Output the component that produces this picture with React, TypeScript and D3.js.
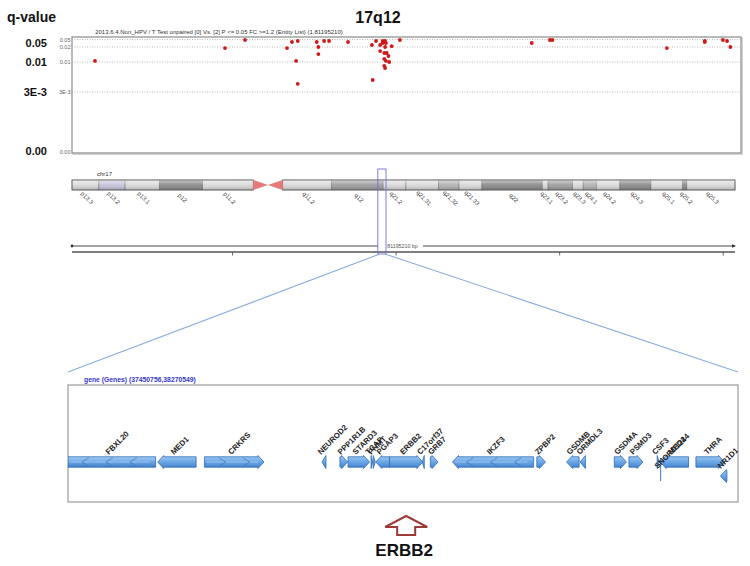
import React from "react";
import * as d3 from "d3";

const W = 750;
const H = 566;

const chromLengthMb = 81.19521;
const windowStart = 37450756;
const windowEnd = 38270549;

const titleText = "17q12";
const yAxisTitle = "q-value";
const captionText =
  "2013.6.4.Non_HPV / T Test unpaired [0] Vs. [2] P <= 0.05 FC >=1.2 (Entity List) (1,81195210)";

// scatter points: position (Mb) and q-value
const pointPosMb = [
  2.79, 18.57, 21.0, 26.1, 26.7, 27.4, 27.2, 27.4, 29.7, 29.9, 29.9, 30.6, 31.2, 33.5,
  36.4, 36.9, 37.4, 37.7, 37.9, 38.0, 38.1, 37.7, 38.0, 37.4, 37.9, 38.2, 38.4, 37.9,
  38.1, 38.5, 37.9, 38.0, 36.5, 38.8, 39.8, 55.8, 58.0, 58.3, 72.2, 76.8, 76.8, 79.0,
  79.5, 79.9,
];
const pointQ = [
  0.0107, 0.0193, 0.048, 0.0193, 0.04, 0.044, 0.0107, 0.0049, 0.04, 0.02, 0.0153, 0.044,
  0.044, 0.04, 0.028, 0.044, 0.028, 0.044, 0.04, 0.044, 0.036, 0.036, 0.02, 0.0173, 0.016,
  0.016, 0.014, 0.012, 0.0107, 0.01, 0.0091, 0.0086, 0.0058, 0.0235, 0.048, 0.036, 0.048,
  0.048, 0.0193, 0.044, 0.04, 0.048, 0.044, 0.02,
];

const qGridValues = [0.05, 0.02, 0.01, 0.003, 0];
const qGridLabels = ["0.05", "0.02", "0.01", "3E-3", "0.00"];
const qBigValues = [0.05, 0.01, 0.003, 0];
const qBigLabels = ["0.05", "0.01", "3E-3", "0.00"];

// chromosome bands
const bandNames = [
  "p13.3", "p13.2", "p13.1", "p12", "p11.2", "p11.1", "q11.1", "q11.2", "q12", "q21.2",
  "q21.31", "q21.32", "q21.33", "q22", "q23.1", "q23.2", "q23.3", "q24.1", "q24.2",
  "q24.3", "q25.1", "q25.2", "q25.3",
];
const bandStartMb = [
  0, 3.3, 6.5, 10.7, 16.0, 22.2, 24.0, 25.8, 31.8, 38.1, 40.9, 44.9, 47.4, 50.2, 57.6,
  58.3, 61.3, 62.6, 64.2, 67.1, 70.9, 74.8, 75.3,
];
const bandStain = [
  "gneg", "gvar", "gneg", "gpos75", "gneg", "acen", "acen", "gneg", "gpos50", "gneg",
  "gneg", "gpos25", "gneg", "gpos75", "gneg", "gpos50", "gneg", "gpos25", "gneg",
  "gpos75", "gneg", "gpos75", "gneg",
];
const stainColor: Record<string, string> = {
  gneg: "#dadada",
  gvar: "#c4c4d8",
  gpos25: "#b2b2b2",
  gpos50: "#9d9d9d",
  gpos75: "#8a8a8a",
  acen: "#e47a7a",
};
const rulerTicksMb = [20, 40, 60, 80];
const rulerLabel = "81195210 bp";

// genes in the zoomed window
const geneNames = [
  "FBXL20", "MED1", "CRKRS", "NEUROD2", "PPP1R1B", "STARD3", "TCAP", "PNMT", "PGAP3",
  "ERBB2", "C17orf37", "GRB7", "IKZF3", "ZPBP2", "GSDMB", "ORMDL3", "GSDMA", "PSMD3",
  "CSF3", "MED24", "SNORD124", "THRA", "NR1D1",
];
const geneStart = [
  37410000, 37560500, 37617800, 37761500, 37783500, 37793400, 37821600, 37824234,
  37827375, 37844167, 37884297, 37894180, 37921198, 38024417, 38060848, 38077294,
  38119226, 38137080, 38171614, 38175350, 38175900, 38219067, 38249040,
];
const geneEnd = [
  37557900, 37607500, 37690500, 37766400, 37792900, 37819737, 37822807, 37826728,
  37844393, 37884915, 37886679, 37903538, 38020441, 38034948, 38076151, 38083884,
  38134090, 38154304, 38174066, 38210000, 38176000, 38254000, 38256978,
];
const geneStrand = [
  -1, -1, 1, -1, 1, 1, 1, 1, -1, 1, -1, 1, -1, 1, -1, -1, 1, 1, 1, -1, 0, 1, -1,
];
const geneRow = [0, 0, 0, 0, 0, 0, 0, 0, 0, 0, 0, 0, 0, 0, 0, 0, 0, 0, 0, 0, 1, 0, 1];
const highlightGene = "ERBB2";
const geneTrackTitle = "gene (Genes) (37450756,38270549)";

const FONT = "'Liberation Sans', Arial, sans-serif";

function genePath(x0: number, x1: number, cy: number, strand: number, clippedLeft: boolean) {
  const hb = 5.2;
  const hh = 6.5;
  const hl = Math.min(6, x1 - x0);
  if (strand > 0) {
    return `M${x0},${cy - hb}L${x1 - hl},${cy - hb}L${x1 - hl},${cy - hh}L${x1},${cy}L${x1 - hl},${cy + hh}L${x1 - hl},${cy + hb}L${x0},${cy + hb}Z`;
  }
  if (clippedLeft) {
    return `M${x0},${cy - hb}L${x1},${cy - hb}L${x1},${cy + hb}L${x0},${cy + hb}Z`;
  }
  return `M${x1},${cy - hb}L${x0 + hl},${cy - hb}L${x0 + hl},${cy - hh}L${x0},${cy}L${x0 + hl},${cy + hh}L${x0 + hl},${cy + hb}L${x1},${cy + hb}Z`;
}

export default function App() {
  // scatter
  const plot = { left: 72, right: 741, top: 37, bottom: 153 };
  const xS = d3.scaleLinear().domain([0, chromLengthMb]).range([plot.left, plot.right]);
  const yS = d3
    .scaleLinear()
    .domain([0, 0.003, 0.01, 0.02, 0.05])
    .range([152, 92, 62, 47, 39.5]);

  // ideogram
  const ideo = { left: 72, right: 735, top: 180, h: 10 };
  const xI = d3.scaleLinear().domain([0, chromLengthMb]).range([ideo.left, ideo.right]);
  const xR = d3.scaleLinear().domain([0, chromLengthMb]).range([69, 733]);
  const bands = bandNames.map((n, i) => ({
    name: n,
    start: bandStartMb[i],
    end: i + 1 < bandStartMb.length ? bandStartMb[i + 1] : chromLengthMb,
    stain: bandStain[i],
  }));
  const pEnd = bands.find((b) => b.name === "p11.1")!.start;
  const cenMid = bands.find((b) => b.name === "q11.1")!.start;
  const qStart = bands.find((b) => b.name === "q11.2")!.start;

  const hlX0 = xI(windowStart / 1e6);
  const hlX1 = xI(windowEnd / 1e6) + 1.5;

  // genes
  const gBox = { left: 68, right: 738, top: 385, bottom: 502 };
  const xG = d3.scaleLinear().domain([windowStart, windowEnd]).range([gBox.left, gBox.right]);
  const rowY = [462, 476];
  const genes = geneNames.map((n, i) => {
    const s = Math.max(geneStart[i], windowStart);
    const e = Math.min(geneEnd[i], windowEnd);
    return {
      name: n,
      x0: xG(s),
      x1: xG(e),
      clipped: geneStart[i] < windowStart,
      strand: geneStrand[i],
      cy: rowY[geneRow[i]],
      row: geneRow[i],
    };
  });
  const hg = genes.find((g) => g.name === highlightGene)!;
  const hgX = (hg.x0 + hg.x1) / 2;

  const ruler1Y = 246;
  const ruler2Y = 252;
  const labelGap0 = 378;
  const labelGap1 = 423;

  return (
    <svg
      width={W}
      height={H}
      style={{ position: "absolute", left: 0, top: 0, background: "#fff" }}
      fontFamily={FONT}
    >
      <defs>
        <linearGradient id="ideoShade" x1="0" y1="0" x2="0" y2="1">
          <stop offset="0" stopColor="#fff" stopOpacity="0.55" />
          <stop offset="0.45" stopColor="#fff" stopOpacity="0.1" />
          <stop offset="1" stopColor="#000" stopOpacity="0.18" />
        </linearGradient>
        <linearGradient id="geneFill" x1="0" y1="0" x2="0" y2="1">
          <stop offset="0" stopColor="#a9d0f5" />
          <stop offset="0.45" stopColor="#6fa9e6" />
          <stop offset="1" stopColor="#3f7fcd" />
        </linearGradient>
        <clipPath id="geneClip">
          <rect x={gBox.left} y={gBox.top} width={gBox.right - gBox.left} height={gBox.bottom - gBox.top} />
        </clipPath>
      </defs>
      <rect x={0} y={0} width={W} height={H} fill="#fff" />

      {/* titles */}
      <text x={7} y={22} fontSize={14} fontWeight="bold" fill="#111">
        {yAxisTitle}
      </text>
      <text x={378} y={23} fontSize={16} fontWeight="bold" fill="#111" textAnchor="middle">
        {titleText}
      </text>
      <text x={219} y={34} fontSize={6} fill="#333" textAnchor="middle">
        {captionText}
      </text>

      {/* scatter panel */}
      <rect x={plot.left + 1.2} y={plot.top + 1.2} width={plot.right - plot.left} height={plot.bottom - plot.top} fill="none" stroke="#c8c8c8" strokeWidth={1.2} />
      <rect x={plot.left} y={plot.top} width={plot.right - plot.left} height={plot.bottom - plot.top} fill="#fff" stroke="#8a8a8a" strokeWidth={1.2} />
      {qGridValues.map((v, i) => (
        <g key={"g" + i}>
          {v > 0 && (
            <line x1={plot.left} x2={plot.right} y1={yS(v)} y2={yS(v)} stroke="#a8a8a8" strokeWidth={0.8} strokeDasharray="1,1.5" />
          )}
          <text x={plot.left - 1.5} y={yS(v)} fontSize={5.5} fill="#666" textAnchor="end" dominantBaseline="central">
            {qGridLabels[i]}
          </text>
        </g>
      ))}
      {qBigValues.map((v, i) => (
        <text
          key={"b" + i}
          x={47}
          y={Math.min(Math.max(yS(v), plot.top + 6), plot.bottom - 2)}
          fontSize={11}
          fontWeight="bold"
          fill="#111"
          textAnchor="end"
          dominantBaseline="central"
        >
          {qBigLabels[i]}
        </text>
      ))}
      {pointPosMb.map((p, i) => (
        <circle key={"p" + i} cx={xS(p)} cy={yS(pointQ[i])} r={1.9} fill="#d01818" />
      ))}

      {/* ideogram */}
      <text x={97} y={176} fontSize={6} fill="#333">
        chr17
      </text>
      {bands
        .filter((b) => b.stain !== "acen")
        .map((b, i) => (
          <rect key={"band" + i} x={xI(b.start)} y={ideo.top} width={xI(b.end) - xI(b.start)} height={ideo.h} fill={stainColor[b.stain]} stroke="#666" strokeWidth={0.5} />
        ))}
      <rect x={xI(0)} y={ideo.top} width={xI(pEnd) - xI(0)} height={ideo.h} fill="url(#ideoShade)" stroke="#666" strokeWidth={0.8} />
      <rect x={xI(qStart)} y={ideo.top} width={xI(chromLengthMb) - xI(qStart)} height={ideo.h} fill="url(#ideoShade)" stroke="#666" strokeWidth={0.8} />
      <path
        d={`M${xI(pEnd)},${ideo.top}L${xI(cenMid)},${ideo.top + ideo.h / 2}L${xI(pEnd)},${ideo.top + ideo.h}Z`}
        fill={stainColor.acen}
      />
      <path
        d={`M${xI(qStart)},${ideo.top}L${xI(cenMid)},${ideo.top + ideo.h / 2}L${xI(qStart)},${ideo.top + ideo.h}Z`}
        fill={stainColor.acen}
      />
      {bands
        .filter((b) => b.stain !== "acen")
        .map((b, i) => {
          const cx = (xI(b.start) + xI(b.end)) / 2 + 1.5;
          const cy = 198;
          return (
            <text key={"bl" + i} x={cx} y={cy} fontSize={6} fill="#444" textAnchor="middle" dominantBaseline="central" transform={`rotate(45 ${cx} ${cy})`}>
              {b.name}
            </text>
          );
        })}

      {/* ruler */}
      <line x1={xI(0)} x2={labelGap0} y1={ruler1Y} y2={ruler1Y} stroke="#333" strokeWidth={0.9} />
      <line x1={labelGap1} x2={xI(chromLengthMb)} y1={ruler1Y} y2={ruler1Y} stroke="#333" strokeWidth={0.9} />
      <circle cx={xI(0)} cy={ruler1Y} r={1.4} fill="#333" />
      <path d={`M${xI(chromLengthMb) + 1},${ruler1Y}L${xI(chromLengthMb) - 3},${ruler1Y - 1.8}L${xI(chromLengthMb) - 3},${ruler1Y + 1.8}Z`} fill="#333" />
      <text x={(labelGap0 + labelGap1) / 2 + 2} y={ruler1Y} fontSize={5.3} fill="#555" textAnchor="middle" dominantBaseline="central">
        {rulerLabel}
      </text>
      <line x1={xI(0)} x2={xI(chromLengthMb)} y1={ruler2Y} y2={ruler2Y} stroke="#555" strokeWidth={1.4} />
      {rulerTicksMb.map((t) => (
        <line key={"t" + t} x1={xR(t)} x2={xR(t)} y1={ruler2Y} y2={ruler2Y + 3.5} stroke="#555" strokeWidth={0.9} />
      ))}

      {/* highlight + zoom lines */}
      <rect x={hlX0} y={169} width={hlX1 - hlX0} height={85} fill="none" stroke="#6f6fe0" strokeWidth={0.9} />
      <line x1={hlX0 + 2} y1={254} x2={gBox.left} y2={372} stroke="#88acdf" strokeWidth={1.1} />
      <line x1={hlX1 - 1} y1={254} x2={gBox.right} y2={372} stroke="#88acdf" strokeWidth={1.1} />

      {/* gene track */}
      <text x={84} y={382} fontSize={6.8} fontWeight="bold" fill="#3535c8">
        {geneTrackTitle}
      </text>
      <rect x={gBox.left} y={gBox.top} width={gBox.right - gBox.left} height={gBox.bottom - gBox.top} fill="#fff" stroke="#9a9a9a" strokeWidth={1.2} />
      <g clipPath="url(#geneClip)">
        {genes.map((g, i) => {
          if (g.strand === 0) {
            return <line key={"gs" + i} x1={g.x0} x2={g.x0} y1={rowY[0] - 4} y2={rowY[1] + 5} stroke="#3d78c4" strokeWidth={1} />;
          }
          const w = g.x1 - g.x0;
          const chevrons: number[] = [];
          if (w > 40) {
            for (let x = g.x0 + 14; x < g.x1 - 14; x += 24) chevrons.push(x);
          }
          return (
            <g key={"gn" + i}>
              <path d={genePath(g.x0, Math.max(g.x1, g.x0 + 1.5), g.cy, g.strand, g.clipped)} fill="url(#geneFill)" stroke="#2f69b5" strokeWidth={0.8} />
              {w > 40 && <line x1={g.x0 + 2} x2={g.x1 - 6} y1={g.cy} y2={g.cy} stroke="#d6e8fa" strokeWidth={0.6} opacity={0.8} />}
              {chevrons.map((x, k) => (
                <path
                  key={k}
                  d={g.strand > 0 ? `M${x},${g.cy - 4.5}L${x + 7},${g.cy}L${x},${g.cy + 4.5}` : `M${x + 7},${g.cy - 4.5}L${x},${g.cy}L${x + 7},${g.cy + 4.5}`}
                  fill="none"
                  stroke="#3a73bd"
                  strokeWidth={0.7}
                />
              ))}
            </g>
          );
        })}
        {genes.map((g, i) => {
          const cx = (g.x0 + g.x1) / 2 - 3;
          const ty = g.strand === 0 ? rowY[1] - 7 : g.cy - 7;
          return (
            <text key={"gl" + i} x={cx} y={ty} fontSize={7.8} fontWeight="bold" fill="#222" transform={`rotate(-45 ${cx} ${ty})`}>
              {g.name}
            </text>
          );
        })}
      </g>

      {/* ERBB2 annotation */}
      <path
        d={`M${hgX},516L${hgX + 21},527L${hgX + 9},527L${hgX + 9},535L${hgX - 9},535L${hgX - 9},527L${hgX - 21},527Z`}
        fill="#fff"
        stroke="#9c3a3a"
        strokeWidth={2}
        strokeLinejoin="miter"
      />
      <text x={hgX - 2} y={556} fontSize={17} fontWeight="bold" fill="#111" textAnchor="middle">
        {highlightGene}
      </text>
    </svg>
  );
}
